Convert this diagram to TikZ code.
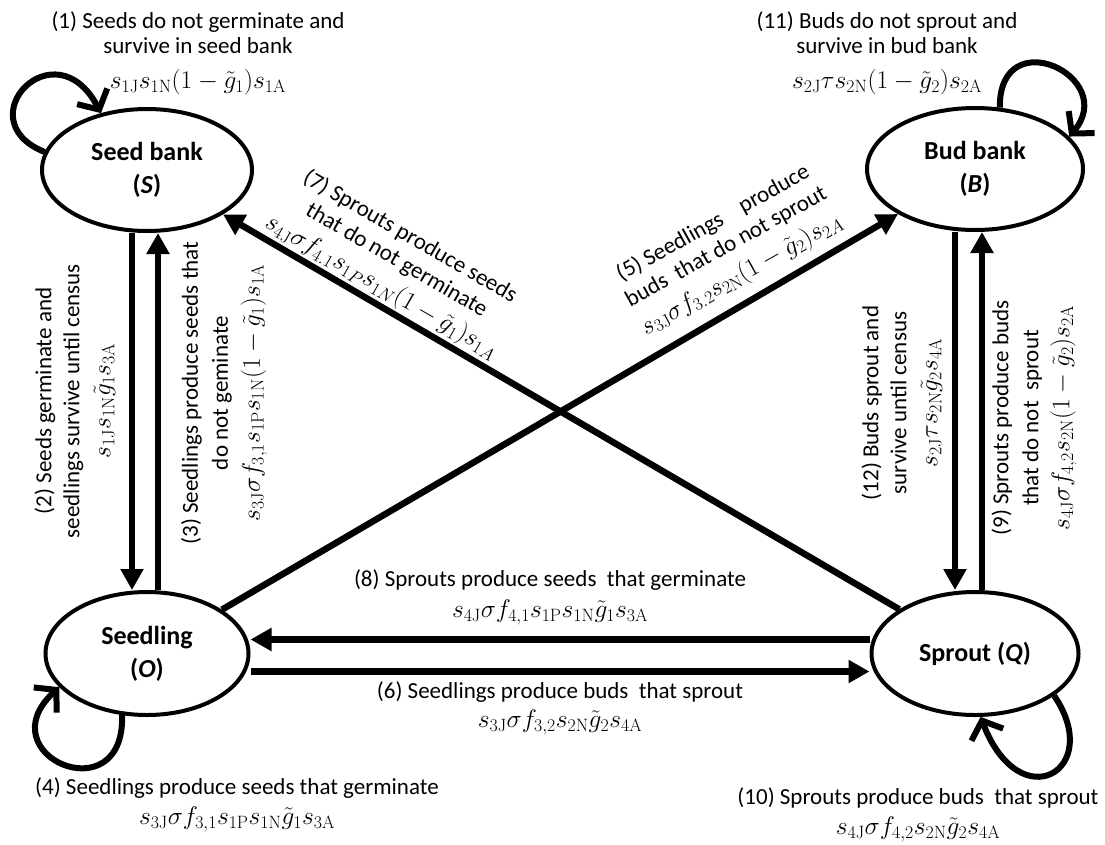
\RequirePackage{fix-cm}
\documentclass[tikz,border=0pt]{standalone}
\usepackage[no-math]{fontspec}
\setmainfont{Carlito}
\usetikzlibrary{arrows.meta,shapes.geometric}
\newcommand\mathlbl[1]{{\fontsize{25.5}{27}\selectfont$#1$}}
\begin{document}
\begin{tikzpicture}[x=1pt,y=-1pt,
  state/.style={draw,ellipse,line width=4pt,inner sep=0pt,align=center,
    font=\fontsize{26}{33}\selectfont\bfseries},
  arr/.style={line width=6.5pt,-{Triangle[length=21pt,width=22pt]}},
  loopa/.style={line width=6pt,-{Straight Barb[length=15pt,width=34pt]}},
  lbl/.style={align=center,inner sep=0pt,font=\fontsize{23}{27}\selectfont},
]
\useasboundingbox[fill=white] (0,0) rectangle (1105,844);

% states
\node[state,minimum width=210pt,minimum height=122pt] (sb) at (147,170) {Seed bank\\(\textit{S})};
\node[state,minimum width=216pt,minimum height=122pt] (bb) at (975,169) {Bud bank\\(\textit{B})};
\node[state,minimum width=203pt,minimum height=123pt] (sd) at (147,653.5) {Seedling\\(\textit{O})};
\node[state,minimum width=207pt,minimum height=123pt] (sp) at (975,653.5) {Sprout (\textit{Q})};

% vertical arrows
\draw[arr] ([xshift=-15pt]sb.south) -- ([xshift=-15pt]sd.north);   % (2)
\draw[arr] ([xshift=11pt]sd.north) -- ([xshift=11pt]sb.south);     % (3)
\draw[arr] ([xshift=-20pt]bb.south) -- ([xshift=-20pt]sp.north);   % (12)
\draw[arr] ([xshift=7pt]sp.north) -- ([xshift=7pt]bb.south);       % (9)

% horizontal arrows
\draw[arr] ([yshift=14pt]sp.west) -- ([yshift=14pt]sd.east);       % (8)
\draw[arr] ([yshift=-18pt]sd.east) -- ([yshift=-18pt]sp.west);     % (6)

% diagonal arrows
\draw[arr] (sp) -- (sb);   % (7)
\draw[arr] (sd) -- (bb);   % (5)

% self loops
\draw[loopa] (sb.170) .. controls (-35,120) and (55,25) .. (sb.129);      % (1)
\draw[loopa] (bb.68) .. controls (999,20) and (1120,77) .. (bb.19);       % (11)
\draw[loopa] (sd.248) .. controls (125,815) and (-15,755) .. (sd.201);    % (4)
\draw[loopa] (sp.-28) .. controls (1105,770) and (1020,820) .. (sp.-85);  % (10)

% labels
\node[lbl] (l1) at (198,53) {(1) Seeds do not germinate and\\[-2pt] survive in seed bank\\[8pt]
  \mathlbl{s_{1\mathrm{J}}s_{1\mathrm{N}}(1-\tilde{g}_1)s_{1\mathrm{A}}}};
\node[lbl] (l11) at (887,53) {(11) Buds do not sprout and\\[-2pt] survive in bud bank\\[8pt]
  \mathlbl{s_{2\mathrm{J}}\tau s_{2\mathrm{N}}(1-\tilde{g}_2)s_{2\mathrm{A}}}};
\node[lbl,rotate=90] (l2) at (75,401) {(2) Seeds germinate and\\[1pt] seedlings survive until census\\[4pt]
  \mathlbl{s_{1\mathrm{J}}s_{1\mathrm{N}}\tilde{g}_1s_{3\mathrm{A}}}};
\node[lbl,rotate=90] (l3) at (224,393) {(3) Seedlings produce seeds that\\[3pt] do not geminate\\[5pt]
  \mathlbl{s_{3\mathrm{J}}\sigma f_{3,1}s_{1\mathrm{P}}s_{1\mathrm{N}}(1-\tilde{g}_1)s_{1\mathrm{A}}}};
\node[lbl,rotate=90] (l12) at (902,403) {(12) Buds sprout and\\[1pt] survive until census\\[4pt]
  \mathlbl{s_{2\mathrm{J}}\tau s_{2\mathrm{N}}\tilde{g}_2s_{4\mathrm{A}}}};
\node[lbl,rotate=90] (l9) at (1034,418) {(9) Sprouts produce buds\\[3pt] that do not\ \ sprout\\[4pt]
  \mathlbl{s_{4\mathrm{J}}\sigma f_{4,2}s_{2\mathrm{N}}(1-\tilde{g}_2)s_{2\mathrm{A}}}};
\node[lbl,rotate=-30] (l7) at (395,263) {(7) Sprouts produce seeds\\ that do not germinate\\[4pt]
  \mathlbl{s_{4\mathrm{J}}\sigma f_{4.1}s_{1P}s_{1N}(1-\tilde{g}_1)s_{1A}}};
\node[lbl,rotate=29] (l5) at (728,250) {(5) Seedlings\hspace{0.9em}produce\\ buds\ \ that do not sprout\\[5pt]
  \mathlbl{s_{3\mathrm{J}}\sigma f_{3.2}s_{2\mathrm{N}}(1-\tilde{g}_2)s_{2A}}};
\node[lbl] (l8) at (550,597) {(8) Sprouts produce seeds\ \ that germinate\\[4pt]
  \mathlbl{s_{4\mathrm{J}}\sigma f_{4,1}s_{1\mathrm{P}}s_{1\mathrm{N}}\tilde{g}_1s_{3\mathrm{A}}}};
\node[lbl] (l6) at (560,708) {(6) Seedlings produce buds\ \ that sprout\\[2pt]
  \mathlbl{s_{3\mathrm{J}}\sigma f_{3,2}s_{2\mathrm{N}}\tilde{g}_2s_{4\mathrm{A}}}};
\node[lbl] (l4) at (237,805) {(4) Seedlings produce seeds that germinate\\[3pt]
  \mathlbl{s_{3\mathrm{J}}\sigma f_{3,1}s_{1\mathrm{P}}s_{1\mathrm{N}}\tilde{g}_1s_{3\mathrm{A}}}};
\node[lbl] (l10) at (918,815) {(10) Sprouts produce buds\ \ that sprout\\[3pt]
  \mathlbl{s_{4\mathrm{J}}\sigma f_{4,2}s_{2\mathrm{N}}\tilde{g}_2s_{4\mathrm{A}}}};
\end{tikzpicture}
\end{document}
